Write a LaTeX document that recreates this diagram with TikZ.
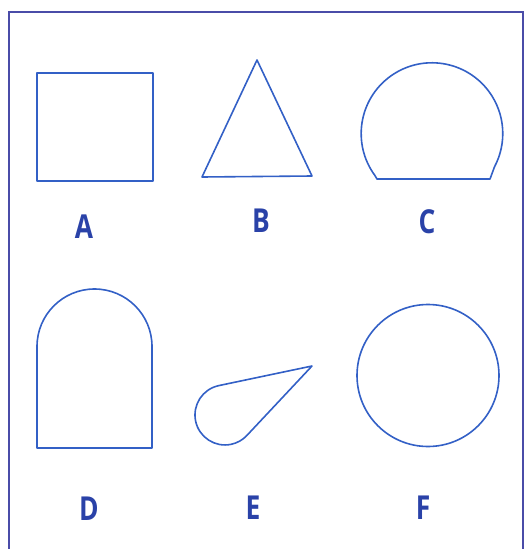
\documentclass[tikz,border=0pt]{standalone}
\usepackage{fontspec}
\newfontfamily\lettersf{Open Sans}
\usetikzlibrary{calc}

\definecolor{shapeblue}{HTML}{3360C6}
\definecolor{letterblue}{HTML}{2A42A8}
\definecolor{frameblue}{HTML}{4A4CA8}

\tikzset{
  outline/.style={draw=shapeblue, line width=1.6pt, line join=round},
  letter/.style={text=letterblue, inner sep=0pt,
    font=\lettersf\bfseries\fontsize{33}{33}\selectfont, xscale=0.8}
}

\begin{document}
\begin{tikzpicture}[x=1pt, y=-1pt]
\useasboundingbox (0,0) rectangle (524,549);
% frame
\draw[frameblue, line width=1.8pt] (9,551) -- (9,12) -- (523,12) -- (523,551);
% A: square
\draw[outline] (37,73) rectangle (153,181);
% B: triangle
\coordinate (Btop) at (257,60);
\coordinate (Bleft) at (202,177);
\coordinate (Bright) at (312,176);
\draw[outline] (Btop) -- (Bleft) -- (Bright) -- cycle;
% C: circle cut at the bottom
\draw[outline] (377,179) -- (374.7,175.2) arc[start angle=144, end angle=388, radius=70.8] -- (490,179) -- cycle;
% D: arch
\draw[outline] (37,448) -- (37,346.5) arc[start angle=180, end angle=360, radius=57.5] -- (152,448) -- cycle;
% E: drop
\coordinate (Etip) at (312,366);
\draw[outline] (Etip) -- (218.8,385.6) arc[start angle=258.1, end angle=43.1, radius=30] -- cycle;
% F: circle
\draw[outline] (428,375.5) circle (71);
% labels
\node[letter] (labA) at (84,227) {A};
\node[letter] (labB) at (261,221) {B};
\node[letter] (labC) at (427,222) {C};
\node[letter] (labD) at (89,509) {D};
\node[letter] (labE) at (253,508) {E};
\node[letter] (labF) at (423,508) {F};
\end{tikzpicture}
\end{document}
